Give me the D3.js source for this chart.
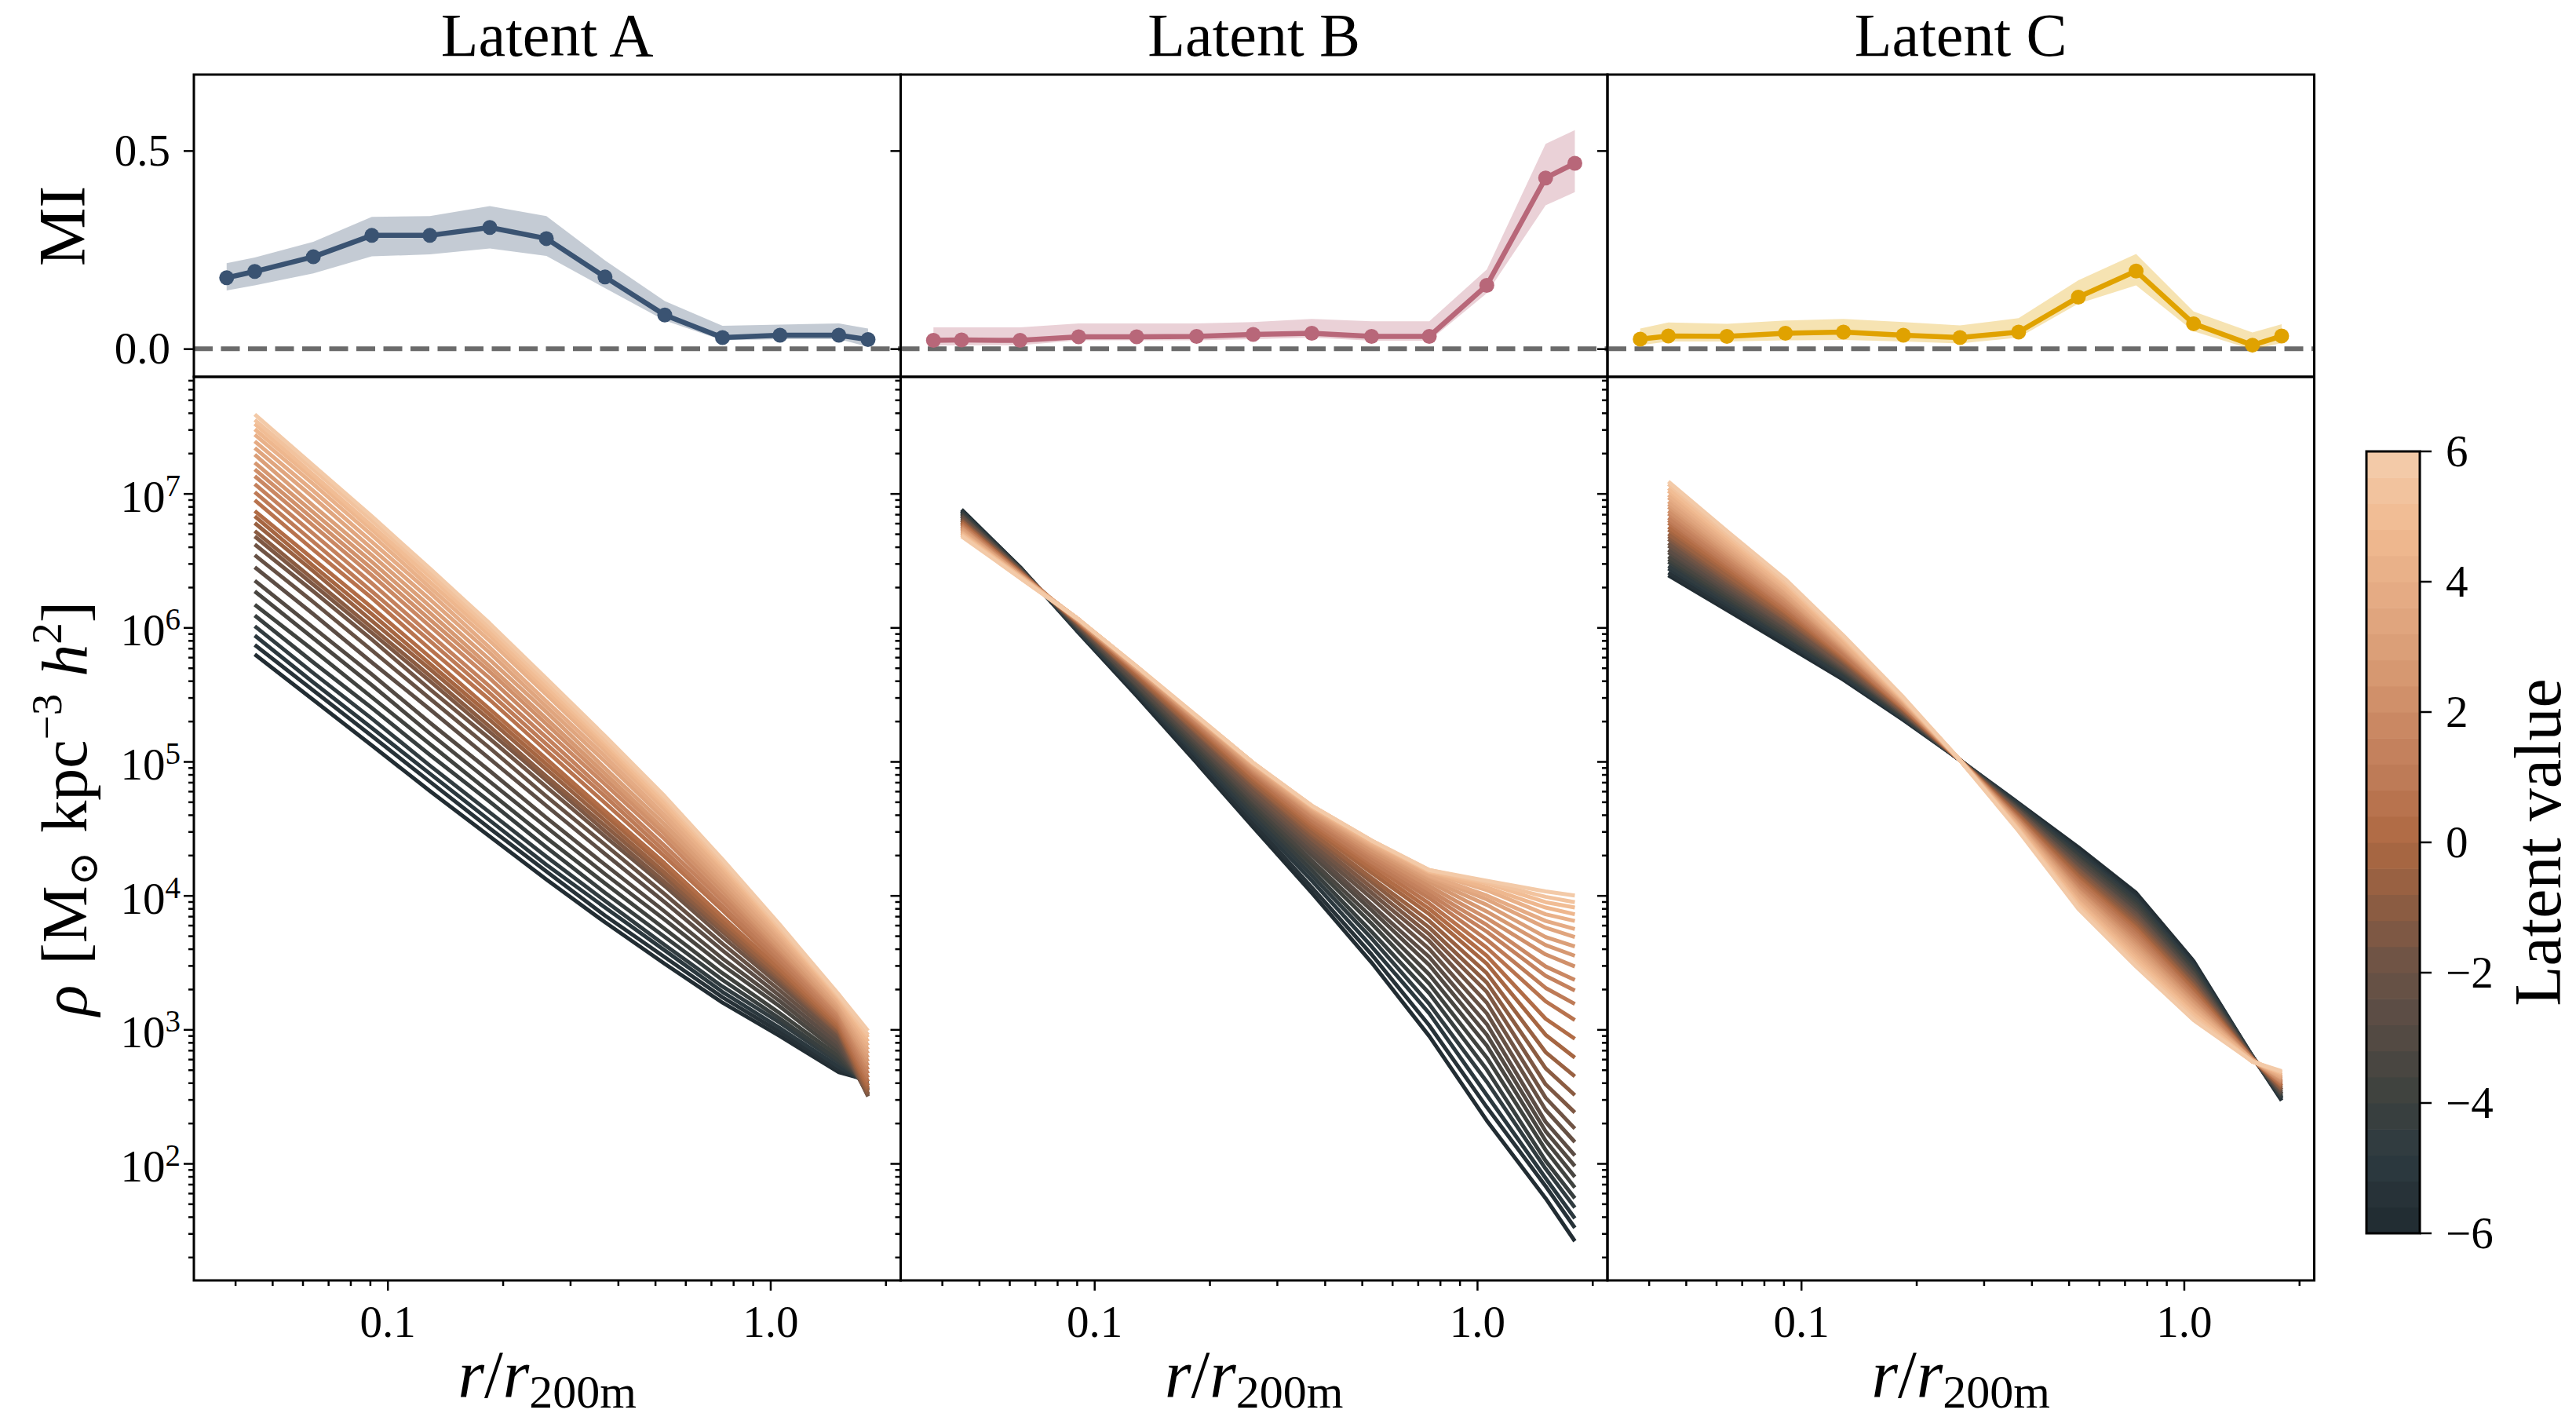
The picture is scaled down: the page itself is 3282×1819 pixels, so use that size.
<!DOCTYPE html>
<html>
<head>
<meta charset="utf-8">
<script src="https://cdn.jsdelivr.net/npm/d3@7"></script>
<style>
body { margin: 0; background: #fff; }
svg text { font-family: "Liberation Serif", "DejaVu Serif", serif; fill: #000; }
</style>
</head>
<body>
<svg id="fig" width="3282" height="1819"></svg>
<script>
// ---- data ----
var titles = ["Latent A", "Latent B", "Latent C"];
var latentValues = [-6.000, -5.586, -5.172, -4.759, -4.345, -3.931, -3.517, -3.103, -2.690, -2.276,
    -1.862, -1.448, -1.034, -0.621, -0.207, 0.207, 0.621, 1.034, 1.448, 1.862,
    2.276, 2.690, 3.103, 3.517, 3.931, 4.345, 4.759, 5.172, 5.586, 6.000];

// mutual information per radial bin
var miRadii = [0.038, 0.045, 0.064, 0.091, 0.129, 0.185, 0.26, 0.37, 0.53, 0.75, 1.06, 1.51, 1.80];
var miA    = [0.179, 0.195, 0.232, 0.286, 0.286, 0.306, 0.278, 0.181, 0.085, 0.028, 0.034, 0.034, 0.023];
var miA_hi = [0.216, 0.230, 0.270, 0.333, 0.335, 0.360, 0.335, 0.223, 0.120, 0.058, 0.061, 0.064, 0.051];
var miA_lo = [0.147, 0.160, 0.190, 0.233, 0.238, 0.253, 0.234, 0.153, 0.071, 0.021, 0.024, 0.024, 0.005];
var miB    = [0.021, 0.022, 0.021, 0.030, 0.030, 0.031, 0.036, 0.039, 0.031, 0.031, 0.160, 0.431, 0.468];
var miB_hi = [0.054, 0.054, 0.054, 0.064, 0.064, 0.064, 0.067, 0.075, 0.069, 0.069, 0.200, 0.517, 0.552];
var miB_lo = [0.008, 0.009, 0.009, 0.021, 0.021, 0.021, 0.024, 0.028, 0.020, 0.020, 0.140, 0.362, 0.395];
var miC    = [0.024, 0.032, 0.031, 0.039, 0.042, 0.034, 0.028, 0.042, 0.130, 0.196, 0.063, 0.009, 0.032];
var miC_hi = [0.051, 0.066, 0.063, 0.071, 0.075, 0.067, 0.059, 0.077, 0.173, 0.239, 0.094, 0.041, 0.062];
var miC_lo = [0.009, 0.018, 0.018, 0.021, 0.022, 0.018, 0.013, 0.028, 0.114, 0.160, 0.044, -0.002, 0.014];

// density profiles, log10(rho); one row per radius, one column per latent value
var profileRadii = [0.045, 0.064, 0.091, 0.129, 0.185, 0.26, 0.37, 0.53, 0.75, 1.06, 1.51, 1.80];
var rhoA = [
 [5.80,5.87,5.94,6.01,6.09,6.17,6.27,6.35,6.45,6.54,6.62,6.68,6.72,6.78,6.83,6.87,6.95,7.01,7.07,7.13,7.18,7.23,7.29,7.34,7.39,7.44,7.48,7.52,7.55,7.59],
 [5.46,5.53,5.59,5.66,5.74,5.83,5.92,6.00,6.10,6.19,6.27,6.32,6.36,6.42,6.46,6.51,6.58,6.64,6.70,6.76,6.81,6.86,6.91,6.97,7.02,7.07,7.11,7.14,7.18,7.21],
 [5.12,5.19,5.25,5.32,5.40,5.48,5.57,5.65,5.74,5.83,5.91,5.96,6.00,6.05,6.10,6.15,6.22,6.27,6.33,6.39,6.44,6.49,6.54,6.59,6.64,6.69,6.73,6.76,6.80,6.83],
 [4.78,4.85,4.91,4.97,5.05,5.13,5.21,5.29,5.39,5.47,5.54,5.60,5.64,5.69,5.73,5.78,5.84,5.90,5.95,6.01,6.06,6.11,6.16,6.21,6.26,6.30,6.34,6.38,6.41,6.44],
 [4.44,4.50,4.56,4.62,4.70,4.77,4.85,4.93,5.02,5.10,5.17,5.22,5.26,5.31,5.35,5.39,5.46,5.51,5.56,5.62,5.67,5.71,5.76,5.81,5.85,5.90,5.94,5.97,6.00,6.03],
 [4.12,4.18,4.23,4.29,4.36,4.43,4.51,4.58,4.67,4.74,4.81,4.86,4.89,4.94,4.98,5.02,5.08,5.13,5.18,5.23,5.28,5.32,5.37,5.41,5.45,5.50,5.53,5.56,5.59,5.62],
 [3.80,3.85,3.91,3.96,4.02,4.09,4.16,4.23,4.31,4.38,4.44,4.48,4.52,4.56,4.60,4.63,4.69,4.74,4.78,4.83,4.87,4.91,4.95,5.00,5.04,5.08,5.11,5.14,5.16,5.19],
 [3.49,3.54,3.59,3.63,3.69,3.75,3.82,3.88,3.95,4.01,4.07,4.10,4.14,4.17,4.21,4.24,4.29,4.33,4.37,4.42,4.46,4.49,4.53,4.57,4.60,4.64,4.67,4.69,4.72,4.74],
 [3.20,3.24,3.28,3.32,3.37,3.42,3.48,3.53,3.59,3.64,3.69,3.73,3.75,3.78,3.81,3.84,3.89,3.92,3.96,3.99,4.03,4.06,4.09,4.12,4.15,4.18,4.21,4.23,4.25,4.27],
 [2.95,2.98,3.01,3.05,3.08,3.12,3.17,3.21,3.25,3.29,3.33,3.36,3.38,3.40,3.43,3.45,3.48,3.51,3.54,3.57,3.59,3.61,3.64,3.66,3.69,3.71,3.73,3.75,3.76,3.78],
 [2.68,2.70,2.72,2.75,2.77,2.80,2.83,2.86,2.89,2.92,2.95,2.97,2.98,3.00,3.01,3.03,3.05,3.07,3.09,3.11,3.13,3.14,3.16,3.18,3.20,3.21,3.23,3.24,3.25,3.26],
 [2.62,2.61,2.60,2.59,2.58,2.56,2.55,2.54,2.52,2.51,2.50,2.51,2.52,2.54,2.56,2.58,2.61,2.64,2.67,2.70,2.73,2.76,2.79,2.82,2.85,2.88,2.91,2.94,2.96,2.99]
];
var rhoB = [
 [6.88,6.87,6.87,6.86,6.85,6.85,6.84,6.83,6.83,6.82,6.81,6.80,6.80,6.79,6.78,6.78,6.77,6.76,6.76,6.75,6.74,6.74,6.73,6.72,6.71,6.71,6.70,6.69,6.69,6.68],
 [6.45,6.45,6.44,6.44,6.44,6.44,6.43,6.43,6.43,6.43,6.42,6.42,6.42,6.41,6.41,6.41,6.41,6.40,6.40,6.40,6.39,6.39,6.39,6.39,6.38,6.38,6.38,6.38,6.37,6.37],
 [5.96,5.97,5.97,5.98,5.99,5.99,6.00,6.00,6.01,6.01,6.02,6.02,6.03,6.03,6.03,6.04,6.04,6.04,6.05,6.05,6.05,6.05,6.05,6.06,6.06,6.06,6.06,6.06,6.06,6.06],
 [5.49,5.51,5.52,5.53,5.55,5.56,5.57,5.58,5.60,5.61,5.62,5.63,5.63,5.64,5.65,5.66,5.67,5.67,5.68,5.68,5.69,5.69,5.70,5.70,5.70,5.71,5.71,5.71,5.71,5.71],
 [4.99,5.01,5.04,5.06,5.08,5.10,5.12,5.14,5.16,5.17,5.19,5.21,5.22,5.23,5.25,5.26,5.27,5.28,5.29,5.30,5.31,5.31,5.32,5.33,5.33,5.33,5.34,5.34,5.34,5.34],
 [4.51,4.54,4.57,4.60,4.63,4.66,4.69,4.71,4.74,4.76,4.78,4.81,4.83,4.84,4.86,4.88,4.89,4.91,4.92,4.93,4.94,4.95,4.96,4.97,4.98,4.98,4.99,4.99,4.99,4.99],
 [4.02,4.06,4.11,4.15,4.19,4.23,4.26,4.30,4.33,4.36,4.39,4.42,4.45,4.47,4.50,4.52,4.54,4.56,4.58,4.59,4.61,4.62,4.63,4.64,4.65,4.66,4.66,4.67,4.67,4.67],
 [3.50,3.56,3.62,3.68,3.73,3.79,3.84,3.89,3.93,3.98,4.02,4.06,4.10,4.13,4.17,4.20,4.23,4.25,4.28,4.30,4.32,4.34,4.36,4.37,4.38,4.39,4.40,4.41,4.41,4.41],
 [2.95,3.03,3.12,3.19,3.27,3.34,3.41,3.48,3.54,3.60,3.66,3.71,3.76,3.81,3.86,3.90,3.94,3.98,4.01,4.04,4.07,4.10,4.12,4.14,4.15,4.17,4.18,4.18,4.19,4.19],
 [2.32,2.42,2.51,2.61,2.70,2.79,2.88,2.96,3.04,3.12,3.20,3.28,3.35,3.42,3.49,3.55,3.61,3.67,3.73,3.78,3.83,3.88,3.93,3.97,4.00,4.04,4.06,4.09,4.10,4.11],
 [1.74,1.83,1.89,1.96,2.02,2.10,2.17,2.24,2.31,2.40,2.49,2.59,2.71,2.83,2.96,3.08,3.21,3.31,3.40,3.47,3.56,3.63,3.69,3.76,3.81,3.86,3.91,3.95,3.99,4.03],
 [1.42,1.52,1.59,1.67,1.74,1.82,1.90,1.98,2.06,2.16,2.26,2.38,2.51,2.65,2.79,2.93,3.07,3.19,3.29,3.37,3.47,3.55,3.62,3.69,3.75,3.81,3.86,3.91,3.95,4.00]
];
var rhoC = [
 [6.39,6.41,6.44,6.46,6.49,6.51,6.53,6.56,6.58,6.61,6.63,6.66,6.68,6.70,6.73,6.75,6.78,6.80,6.82,6.85,6.87,6.90,6.92,6.94,6.97,6.99,7.02,7.04,7.07,7.09],
 [6.13,6.15,6.17,6.19,6.21,6.23,6.25,6.27,6.29,6.31,6.33,6.35,6.37,6.39,6.42,6.44,6.46,6.48,6.50,6.52,6.54,6.56,6.58,6.60,6.62,6.64,6.66,6.68,6.70,6.72],
 [5.87,5.89,5.90,5.92,5.94,5.95,5.97,5.99,6.01,6.02,6.04,6.06,6.07,6.09,6.11,6.12,6.14,6.16,6.17,6.19,6.21,6.23,6.24,6.26,6.28,6.29,6.31,6.33,6.34,6.36],
 [5.61,5.62,5.63,5.64,5.66,5.67,5.68,5.69,5.70,5.71,5.72,5.74,5.75,5.76,5.77,5.78,5.79,5.80,5.82,5.83,5.84,5.85,5.86,5.87,5.88,5.89,5.91,5.92,5.93,5.94],
 [5.31,5.32,5.32,5.33,5.33,5.34,5.35,5.35,5.36,5.36,5.37,5.37,5.38,5.39,5.39,5.40,5.40,5.41,5.42,5.42,5.43,5.43,5.44,5.45,5.45,5.46,5.46,5.47,5.47,5.48],
 [5.01,5.01,5.01,5.01,5.01,5.01,5.01,5.01,5.01,5.01,5.01,5.01,5.01,5.01,5.01,5.01,5.01,5.01,5.01,5.01,5.01,5.01,5.01,5.01,5.01,5.01,5.01,5.01,5.01,5.01],
 [4.69,4.68,4.68,4.67,4.66,4.65,4.65,4.64,4.63,4.63,4.62,4.61,4.60,4.60,4.59,4.58,4.57,4.57,4.56,4.55,4.55,4.54,4.53,4.52,4.52,4.51,4.50,4.49,4.49,4.48],
 [4.36,4.34,4.33,4.31,4.30,4.28,4.27,4.25,4.23,4.22,4.20,4.19,4.17,4.15,4.14,4.12,4.11,4.09,4.07,4.06,4.04,4.03,4.01,4.00,3.98,3.96,3.95,3.93,3.92,3.90],
 [4.02,4.00,3.98,3.97,3.95,3.93,3.91,3.89,3.87,3.86,3.84,3.82,3.80,3.78,3.76,3.75,3.73,3.71,3.69,3.67,3.65,3.63,3.61,3.59,3.57,3.55,3.53,3.51,3.49,3.47],
 [3.51,3.50,3.48,3.47,3.45,3.44,3.42,3.41,3.39,3.38,3.36,3.35,3.33,3.32,3.30,3.29,3.27,3.26,3.24,3.23,3.21,3.20,3.18,3.17,3.15,3.14,3.12,3.11,3.09,3.07],
 [2.80,2.80,2.80,2.80,2.79,2.79,2.79,2.79,2.79,2.79,2.79,2.78,2.78,2.78,2.78,2.78,2.78,2.78,2.78,2.77,2.77,2.77,2.77,2.77,2.77,2.77,2.76,2.76,2.76,2.76],
 [2.47,2.48,2.49,2.49,2.50,2.51,2.52,2.52,2.53,2.54,2.55,2.55,2.56,2.57,2.58,2.58,2.59,2.60,2.61,2.61,2.62,2.63,2.64,2.64,2.65,2.66,2.67,2.68,2.68,2.69]
];

// tick values
var miTicks = [0, 0.5];
var rhoMajor = [1e2, 1e3, 1e4, 1e5, 1e6, 1e7];
var rTicks = [0.1, 1];
var cbarTicks = [-6, -4, -2, 0, 2, 4, 6];

// colour map for the latent value (dark slate -> copper -> peach)
var cmapStops = [-6, -5, -4, -3, -2, -1, 0, 1, 2, 3, 4, 5, 6];
var cmapColors = ["#222d33", "#2d3a40", "#3e423f", "#554b44", "#6c5346", "#8c5c42", "#ad6842",
                  "#be7a56", "#cc8a65", "#da9e76", "#e6ac85", "#f0ba91", "#f3caa8"];
var miColors = ["#3a5372", "#b86779", "#e0a200"];

// ---- drawing ----
var svg = d3.select("#fig");
var x0 = 247, pw = 900.5;
var x = d3.scaleLog().domain([0.0312, 2.19]).range([0, pw]);
var yMI = d3.scaleLinear().domain([-0.071, 0.692]).range([480, 95]);
var yRho = d3.scaleLog().domain([13.4, 7.43e7]).range([1631, 480]);
var cmap = d3.scaleLinear().domain(cmapStops).range(cmapColors).interpolate(d3.interpolateRgb);

var miData = [[miA, miA_lo, miA_hi], [miB, miB_lo, miB_hi], [miC, miC_lo, miC_hi]];
var rhoData = [rhoA, rhoB, rhoC];

var rMinor = [], rhoMinor = [];
[0.01, 0.1, 1].forEach(function(d) {
    for (var k = 2; k <= 9; k++) rMinor.push(k * d);
});
rMinor = rMinor.filter(function(v) { return v > 0.0312 && v < 2.19; });
[10, 100, 1e3, 1e4, 1e5, 1e6, 1e7].forEach(function(d) {
    for (var k = 2; k <= 9; k++) rhoMinor.push(k * d);
});
rhoMinor = rhoMinor.filter(function(v) { return v > 13.4 && v < 7.43e7; });

function styleAxis(g) {
    g.select(".domain").remove();
    g.selectAll(".tick line").attr("stroke", "#000").attr("stroke-width", 2.5);
    g.selectAll(".tick text").attr("font-size", 57).attr("fill", "#000")
        .attr("font-family", "Liberation Serif, DejaVu Serif, serif");
    g.attr("font-family", null).attr("font-size", null);
}
var noLabel = function() { return ""; };

var defs = svg.append("defs");

for (var p = 0; p < 3; p++) {
    var g = svg.append("g").attr("transform", "translate(" + (x0 + p * pw) + ",0)");
    defs.append("clipPath").attr("id", "clipTop" + p)
        .append("rect").attr("x", 0).attr("y", 95).attr("width", pw).attr("height", 385);
    defs.append("clipPath").attr("id", "clipBot" + p)
        .append("rect").attr("x", 0).attr("y", 480).attr("width", pw).attr("height", 1151);

    // top: mutual information
    var gt = g.append("g").attr("clip-path", "url(#clipTop" + p + ")");
    var mi = miData[p];
    var pts = miRadii.map(function(r, k) { return {r: r, v: mi[0][k], lo: mi[1][k], hi: mi[2][k]}; });
    gt.append("line").attr("x1", 0).attr("x2", pw).attr("y1", yMI(0)).attr("y2", yMI(0))
        .attr("stroke", "#6b6b6b").attr("stroke-width", 6).attr("stroke-dasharray", "24,10.5");
    gt.append("path").datum(pts)
        .attr("d", d3.area().x(function(d) { return x(d.r); })
            .y0(function(d) { return yMI(d.lo); }).y1(function(d) { return yMI(d.hi); }))
        .attr("fill", miColors[p]).attr("fill-opacity", 0.3);
    gt.append("path").datum(pts)
        .attr("d", d3.line().x(function(d) { return x(d.r); }).y(function(d) { return yMI(d.v); }))
        .attr("fill", "none").attr("stroke", miColors[p]).attr("stroke-width", 6.5).attr("stroke-linejoin", "round");
    gt.selectAll("circle").data(pts).enter().append("circle")
        .attr("cx", function(d) { return x(d.r); }).attr("cy", function(d) { return yMI(d.v); })
        .attr("r", 9.5).attr("fill", miColors[p]);

    // bottom: density profiles
    var gb = g.append("g").attr("clip-path", "url(#clipBot" + p + ")");
    var rho = rhoData[p];
    var line = d3.line().x(function(d) { return x(d[0]); }).y(function(d) { return yRho(d[1]); });
    for (var i = 0; i < latentValues.length; i++) {
        var prof = profileRadii.map(function(r, k) { return [r, Math.pow(10, rho[k][i])]; });
        gb.append("path").attr("d", line(prof)).attr("fill", "none")
            .attr("stroke", cmap(latentValues[i])).attr("stroke-width", 5)
            .attr("stroke-linejoin", "round").attr("stroke-linecap", "butt");
    }

    // axes
    var a1 = g.append("g").call(d3.axisLeft(yMI).tickValues(miTicks).tickSize(13).tickPadding(17)
        .tickFormat(p == 0 ? d3.format(".1f") : noLabel));
    styleAxis(a1);
    var a2 = g.append("g").call(d3.axisLeft(yRho).tickValues(rhoMajor).tickSize(13).tickFormat(noLabel));
    styleAxis(a2);
    var a3 = g.append("g").call(d3.axisLeft(yRho).tickValues(rhoMinor).tickSize(7).tickFormat(noLabel));
    styleAxis(a3);
    var a4 = g.append("g").attr("transform", "translate(0,1631)")
        .call(d3.axisBottom(x).tickValues(rTicks).tickSize(13).tickPadding(19).tickFormat(d3.format(".1f")));
    styleAxis(a4);
    var a5 = g.append("g").attr("transform", "translate(0,1631)")
        .call(d3.axisBottom(x).tickValues(rMinor).tickSize(7).tickFormat(noLabel));
    styleAxis(a5);

    if (p == 0) {
        rhoMajor.forEach(function(v) {
            var t = g.append("text").attr("x", -17).attr("y", yRho(v) + 23)
                .attr("text-anchor", "end").attr("font-size", 57).text("10");
            t.append("tspan").attr("font-size", 39).attr("dy", -20).text(Math.round(Math.log10(v)));
        });
    }

    // spines
    g.append("rect").attr("x", 0).attr("y", 95).attr("width", pw).attr("height", 385)
        .attr("fill", "none").attr("stroke", "#000").attr("stroke-width", 3);
    g.append("rect").attr("x", 0).attr("y", 480).attr("width", pw).attr("height", 1151)
        .attr("fill", "none").attr("stroke", "#000").attr("stroke-width", 3);

    // title and x label
    g.append("text").attr("x", pw / 2).attr("y", 71).attr("text-anchor", "middle")
        .attr("font-size", 78).text(titles[p]);
    var xl = g.append("text").attr("x", pw / 2).attr("y", 1780).attr("text-anchor", "middle").attr("font-size", 86);
    xl.append("tspan").attr("font-style", "italic").text("r");
    xl.append("tspan").text("/");
    xl.append("tspan").attr("font-style", "italic").text("r");
    xl.append("tspan").attr("font-size", 60).attr("dy", 13).text("200m");
}

// y labels
svg.append("text").attr("transform", "translate(108,288) rotate(-90)")
    .attr("text-anchor", "middle").attr("font-size", 84).text("MI");
var yl = svg.append("text").attr("transform", "translate(110,1030) rotate(-90)")
    .attr("text-anchor", "middle").attr("font-size", 82);
yl.append("tspan").attr("font-style", "italic").text("ρ");
yl.append("tspan").attr("dx", 26).text("[M");
yl.append("tspan").attr("font-size", 52).attr("dy", 14).text("⊙");
yl.append("tspan").attr("dy", -14).attr("dx", 24).text("kpc");
yl.append("tspan").attr("font-size", 55).attr("dy", -32).text("−3");
yl.append("tspan").attr("dy", 32).attr("dx", 22).attr("font-style", "italic").text("h");
yl.append("tspan").attr("font-size", 55).attr("dy", -32).text("2");
yl.append("tspan").attr("dy", 32).text("]");

// colour bar
var cb = svg.append("g");
var cbX = 3015, cbW = 68, cbTop = 575, cbBot = 1571;
var cy = d3.scaleLinear().domain([-6, 6]).range([cbBot, cbTop]);
var bandH = (cbBot - cbTop) / latentValues.length;
latentValues.forEach(function(v, k) {
    cb.append("rect").attr("x", cbX).attr("y", cbBot - (k + 1) * bandH)
        .attr("width", cbW).attr("height", bandH + 0.6).attr("fill", cmap(v));
});
cb.append("rect").attr("x", cbX).attr("y", cbTop).attr("width", cbW).attr("height", cbBot - cbTop)
    .attr("fill", "none").attr("stroke", "#000").attr("stroke-width", 3);
cbarTicks.forEach(function(v) {
    cb.append("line").attr("x1", cbX + cbW).attr("x2", cbX + cbW + 15)
        .attr("y1", cy(v)).attr("y2", cy(v)).attr("stroke", "#000").attr("stroke-width", 2.5);
    cb.append("text").attr("x", cbX + cbW + 33).attr("y", cy(v)).attr("dy", "0.34em")
        .attr("font-size", 57).text(v < 0 ? "\u2212" + (-v) : String(v));
});
svg.append("text").attr("transform", "translate(3262,1073) rotate(-90)")
    .attr("text-anchor", "middle").attr("font-size", 84).text("Latent value");
</script>
</body>
</html>
